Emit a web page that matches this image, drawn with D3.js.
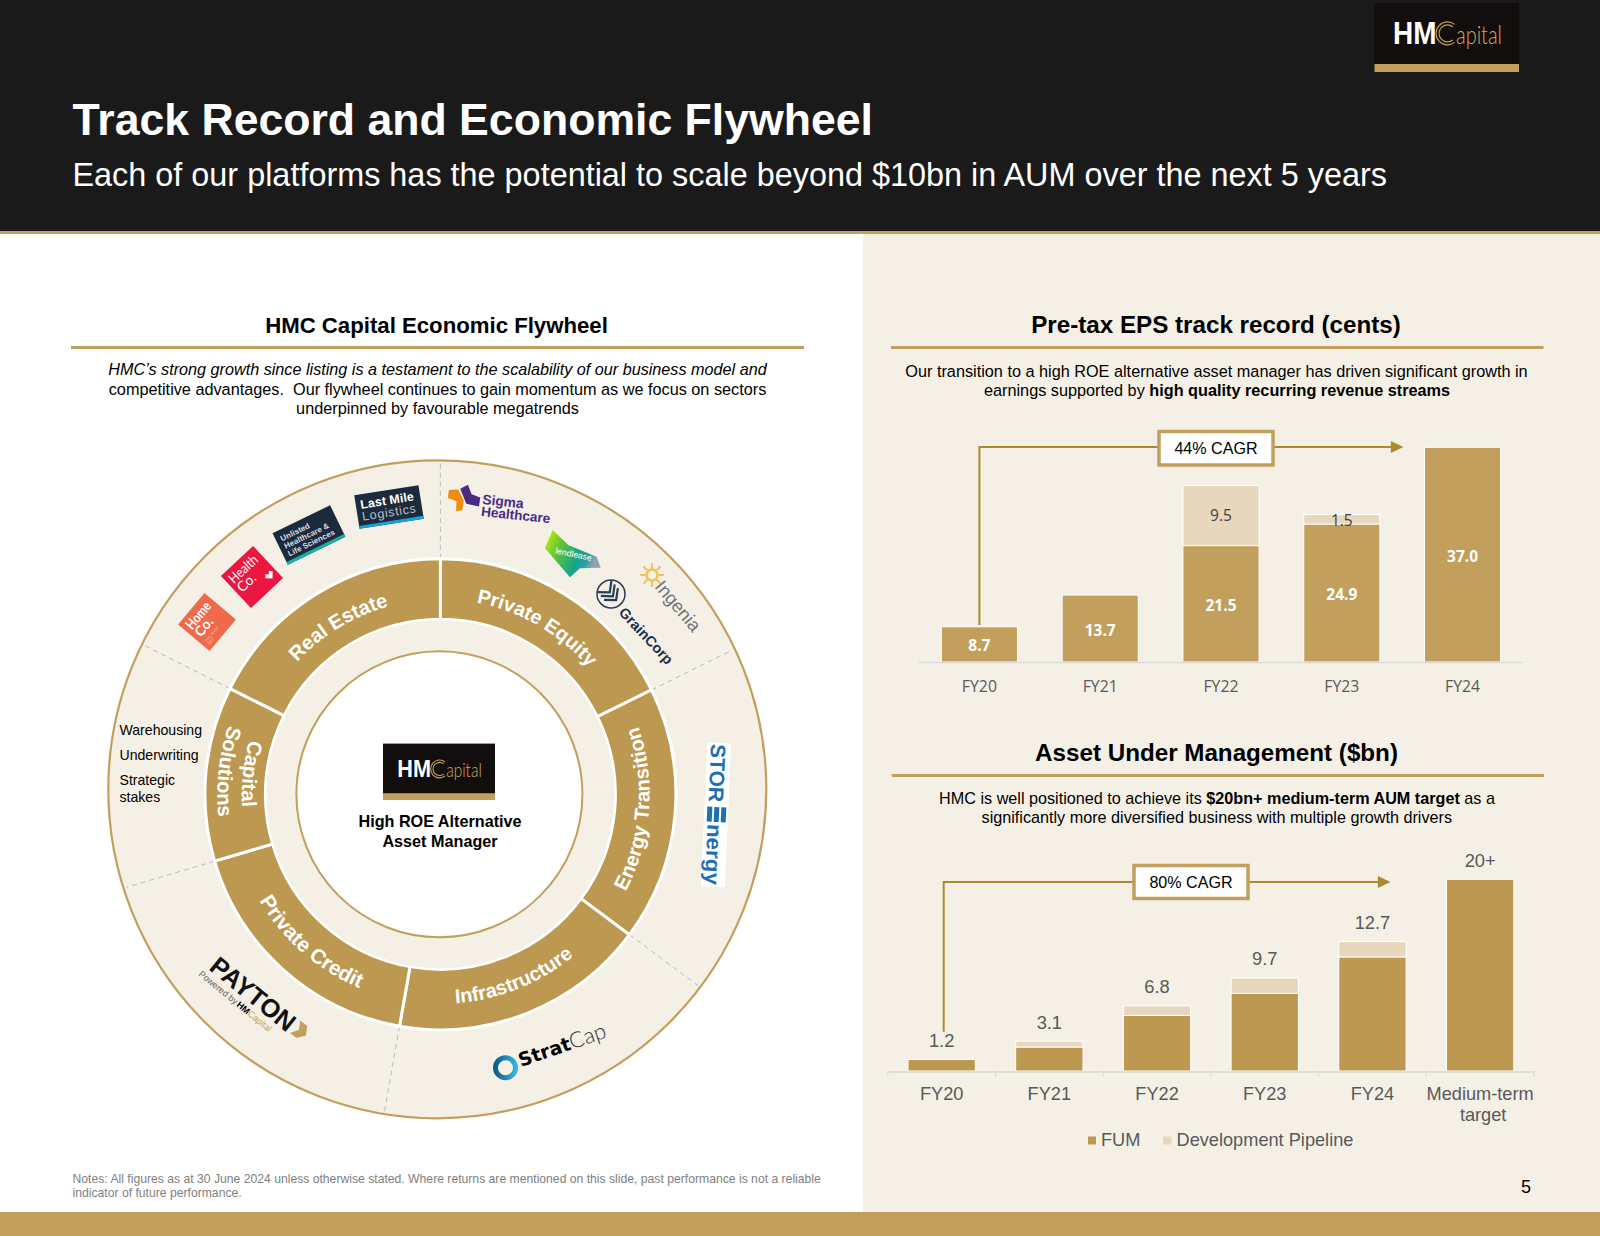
<!DOCTYPE html>
<html><head><meta charset="utf-8">
<script src="https://cdnjs.cloudflare.com/ajax/libs/d3/7.8.5/d3.min.js"></script>
<style>html,body{margin:0;padding:0;background:#fff}svg{display:block}text{font-family:"Liberation Sans",Arial,sans-serif}</style>
</head><body><svg id="s" width="1600" height="1236" viewBox="0 0 1600 1236"></svg>
<script>
// ---------- data ----------
const epsYears = ["FY20","FY21","FY22","FY23","FY24"];
const epsBase = [8.7,13.7,21.5,24.9,37.0];
const epsExtra = [0,0,9.5,1.5,0];
const aumYears = ["FY20","FY21","FY22","FY23","FY24","Medium-term|target"];
const aumFum = [1.2,2.5,5.8,8.1,11.9,20];
const aumPipeline = [0,0.6,1.0,1.6,1.6,0];
const aumTotals = ["1.2","3.1","6.8","9.7","12.7","20+"];
const wheelNames = ["Private Equity","Energy Transition","Infrastructure","Private Credit","Capital Solutions","Real Estate"];
const wheelSpans = [63.7,62.9,63.4,63.5,43.2,63.3];
const capitalItems = ["Warehousing","Underwriting","Strategic","stakes"];

const GOLD="#c29f5c", GOLD2="#bd9850", PALE="#e7d8bd", BEIGE="#f4f0e6", LINE="#ad8a2f", GREY="#595959";
const svg=d3.select("#s");
const T=(g,x,y,t,o={})=>{const e=g.append("text").attr("x",x).attr("y",y).text(t)
  .attr("font-size",o.s||16).attr("fill",o.f||"#000").attr("text-anchor",o.a||"start");
  if(o.w)e.attr("font-weight",o.w); if(o.i)e.attr("font-style","italic"); if(o.ff)e.style("font-family",o.ff);
  if(o.ls)e.attr("letter-spacing",o.ls); if(o.dy)e.attr("dy",o.dy); return e;};
const rich=(g,x,y,parts,s)=>{const e=g.append("text").attr("x",x).attr("y",y).attr("text-anchor","middle").attr("font-size",s);
  parts.forEach(p=>e.append("tspan").text(p[0]).attr("font-weight",p[1]?"bold":"normal"));return e;};

// ---------- page frame ----------
svg.append("rect").attr("width",1600).attr("height",1236).attr("fill","#fff");
svg.append("rect").attr("width",1600).attr("height",231).attr("fill","#1a1a1a");
svg.append("rect").attr("x",863).attr("y",234).attr("width",737).attr("height",980).attr("fill",BEIGE);
svg.append("rect").attr("y",231).attr("width",1600).attr("height",3).attr("fill",GOLD);
svg.append("rect").attr("y",1212).attr("width",1600).attr("height",24).attr("fill",GOLD);
T(svg,72.5,135,"Track Record and Economic Flywheel",{s:44.6,w:"bold",f:"#fff"});
T(svg,72.5,186,"Each of our platforms has the potential to scale beyond $10bn in AUM over the next 5 years",{s:32.4,f:"#fff"});
function logo(x,y,w,h,b){
  const k=w/144.5;
  const g=svg.append("g").attr("transform",`translate(${x},${y})`);
  g.append("rect").attr("width",w).attr("height",h).attr("fill","#120e0d");
  g.append("rect").attr("y",h).attr("width",w).attr("height",b).attr("fill",GOLD);
  const by=h*0.67;
  g.append("text").attr("x",18.5*k).attr("y",by).attr("font-size",31*k).attr("font-weight","bold").attr("fill","#fff")
    .attr("textLength",43.5*k).attr("lengthAdjust","spacingAndGlyphs").text("HM");
  const p=d3.path();[11.5,8.5].forEach(r=>{p.moveTo(73*k+r*k*Math.cos(-0.9),by-10.5*k+r*k*Math.sin(-0.9));p.arc(73*k,by-10.5*k,r*k,-0.9,0.9,true);});
  g.append("path").attr("d",p.toString()).attr("fill","none").attr("stroke",GOLD).attr("stroke-width",1.1);
  g.append("text").attr("x",81.5*k).attr("y",by).attr("font-size",26*k).attr("fill","#d0aa66").attr("font-weight",300).style("font-family","Lato")
    .attr("textLength",46*k).attr("lengthAdjust","spacingAndGlyphs").text("apital");
}
logo(1374.5,3,144.5,61,8);
T(svg,1526,1193,"5",{s:18,a:"middle"});

// ---------- left heading ----------
T(svg,436.5,333,"HMC Capital Economic Flywheel",{s:22.2,w:"bold",a:"middle"});
svg.append("rect").attr("x",71).attr("y",346).attr("width",733).attr("height",3).attr("fill",GOLD);
T(svg,437.5,375,"HMC’s strong growth since listing is a testament to the scalability of our business model and",{s:16.2,i:1,a:"middle"});
T(svg,437.5,394.5,"competitive advantages.  Our flywheel continues to gain momentum as we focus on sectors",{s:16.25,a:"middle"}).style("white-space","pre");
T(svg,437.5,414,"underpinned by favourable megatrends",{s:16.25,a:"middle"});
T(svg,72.5,1183,"Notes: All figures as at 30 June 2024 unless otherwise stated. Where returns are mentioned on this slide, past performance is not a reliable",{s:12.18,f:"#808080"});
T(svg,72.5,1197,"indicator of future performance.",{s:12.18,f:"#808080"});

// ---------- wheel ----------
const C={x:440.4,y:794.3}, D={x:437.3,y:789.3,r:329};
const RO=235.5,RI=175,RC=143;
svg.append("circle").attr("cx",D.x).attr("cy",D.y).attr("r",D.r).attr("fill",BEIGE).attr("stroke",GOLD).attr("stroke-width",2.2);
const slices=d3.pie().sort(null).value(d=>d.span)(wheelNames.map((n,i)=>({name:n,span:wheelSpans[i]})));
const wheel=svg.append("g").attr("transform",`translate(${C.x},${C.y})`);
slices.forEach(s=>{
  const a=s.startAngle, dx=Math.sin(a), dy=-Math.cos(a), ox=C.x-D.x, oy=C.y-D.y;
  const b=ox*dx+oy*dy, R=-b+Math.sqrt(b*b-(ox*ox+oy*oy-D.r*D.r));
  wheel.append("line").attr("x1",dx*RO).attr("y1",dy*RO).attr("x2",dx*(R-3)).attr("y2",dy*(R-3))
    .attr("stroke","#b4b4b4").attr("stroke-width",0.9).attr("stroke-dasharray","5 4");
});
const arc=d3.arc().innerRadius(RI).outerRadius(RO);
wheel.selectAll("path.seg").data(slices).join("path").attr("class","seg").attr("d",arc)
  .attr("fill",GOLD2).attr("stroke","#fff").attr("stroke-width",3);
wheel.append("circle").attr("r",RI-1).attr("fill",BEIGE);
wheel.append("circle").attr("cx",-1).attr("r",RC).attr("fill","#fff").attr("stroke",GOLD).attr("stroke-width",2);
const defs=svg.append("defs");
function arcLabel(text,mid,r,cw,id,size){
  const span=1.4, p=d3.path(), off=-Math.PI/2;
  if(cw) p.arc(0,0,r,mid+off-span,mid+off+span,false);
  else p.arc(0,0,r,mid+off+span,mid+off-span,true);
  defs.append("path").attr("id",id).attr("d",p.toString());
  wheel.append("text").attr("font-size",size).attr("font-weight","bold").attr("fill","#fff").attr("text-anchor","middle")
    .append("textPath").attr("href","#"+id).attr("startOffset","50%").text(text);
}
const nudgeDeg={"Private Equity":-1.8,"Energy Transition":-0.8,"Infrastructure":-0.1,"Private Credit":-0.6,"Capital Solutions":1,"Real Estate":0.3};
const nudgeR={"Private Equity":1,"Real Estate":1,"Infrastructure":-0.5,"Energy Transition":-0.8};
const labelSize={"Private Credit":20.8,"Private Equity":19.8,"Infrastructure":19.9};
slices.forEach((s,i)=>{
  const n=s.data.name, mid=(s.startAngle+s.endAngle)/2+nudgeDeg[n]*Math.PI/180, cw=(n==="Real Estate"||n==="Private Equity");
  if(n==="Capital Solutions"){
    arcLabel("Capital",mid,198.5,false,"w"+i+"a",20.4);
    arcLabel("Solutions",mid,223,false,"w"+i+"b",20.4);
  } else arcLabel(n,mid,(cw?194:210)+(nudgeR[n]||0),cw,"w"+i,labelSize[n]||20.2);
});
capitalItems.forEach((t,i)=>T(svg,119.5,[735,760,785,801.5][i],t,{s:14.1}));
logo(383,743.6,112,50,6.4);
T(svg,440,827,"High ROE Alternative",{s:16.2,w:"bold",a:"middle"});
T(svg,440,847,"Asset Manager",{s:16.2,w:"bold",a:"middle"});

// ---------- brand badges around the wheel ----------
function badge(cx,cy,w,h,rot,fill){const g=svg.append("g").attr("transform",`translate(${cx},${cy}) rotate(${rot})`);
  g.append("rect").attr("x",-w/2).attr("y",-h/2).attr("width",w).attr("height",h).attr("fill",fill);return g;}
let g=badge(207,622,41,41,-50,"#ee6a4b");
const L="Lato";
T(g,-16,-6,"Home",{s:14,f:"#fff",w:"bold",ff:L}).attr("textLength",31).attr("lengthAdjust","spacingAndGlyphs");
T(g,-16,5.5,"Co.",{s:14,f:"#fff",w:"bold",ff:L});T(g,-16,12.5,"Daily Needs",{s:3.5,f:"#f9c4b5"});T(g,-16,16.5,"REIT",{s:3.5,f:"#f9c4b5"});
g=badge(252,577,44,44,-43,"#ec1640");
T(g,-18,-7,"Health",{s:14,f:"#fff",ff:L}).attr("textLength",34).attr("lengthAdjust","spacingAndGlyphs");
T(g,-18,5,"Co.",{s:14,f:"#fff",ff:L});
g.append("path").attr("d","M9 10 L14 15 L19 10 L16.5 7 L14 9.5 L11.5 7 Z").attr("fill","#fff");
g=badge(309,535,64,35,-26,"#1b2a3c");
g.append("rect").attr("x",-32).attr("y",14.5).attr("width",64).attr("height",3).attr("fill","#17b0a8");
["Unlisted","Healthcare &","Life Sciences"].forEach((t,i)=>T(g,-27,-6+i*8.4,t,{s:8,f:"#d8dde2",w:"bold"}));
g=badge(389,507,65,34,-9,"#1b2a3c");
g.append("rect").attr("x",-32.5).attr("y",14).attr("width",65).attr("height",3).attr("fill","#1aa0dc");
T(g,-28,-2.5,"Last Mile",{s:12.5,f:"#fff",w:"bold"}).attr("textLength",54);
T(g,-28,9.5,"Logistics",{s:12.5,f:"#b7bec6"}).attr("textLength",54);
// Sigma
g=svg.append("g").attr("transform","translate(462,498) rotate(8)");
g.append("path").attr("d","M-14 -6 L-5 -8 L2 2 L2 12 L-4 14 L-5 4 L-14 2 Z").attr("fill","#f08a10");
g.append("path").attr("d","M-3 -9 L4 -14 L9 -5 L18 -3 L18 6 L5 5 Z").attr("fill","#4a2a85");
g=svg.append("g").attr("transform","translate(482,504) rotate(6)");
T(g,0,0,"Sigma",{s:13.8,w:"bold",f:"#4a2a85"});T(g,0,12,"Healthcare",{s:13.6,w:"bold",f:"#4a2a85"});
// Lendlease
const lg=defs.append("linearGradient").attr("id","ll").attr("x1","0").attr("y1","0").attr("x2","1").attr("y2","0.4");
[[0,"#d4f200"],[0.35,"#5fc43c"],[0.72,"#14a48a"],[0.86,"#2a9fa6"],[1,"#8fa3ad"]].forEach(d=>lg.append("stop").attr("offset",d[0]).attr("stop-color",d[1]));
g=svg.append("g").attr("transform","translate(430,470) scale(0.3333)");
g.append("path").attr("d","M368 180 L415 225 L500 260 L512 293 L450 295 L420 322 L345 235 Z").attr("fill","url(#ll)");
T(g,375,250,"lendlease",{s:26,f:"#fff"}).attr("transform","rotate(12 375 250)");
// Ingenia
g=svg.append("g").attr("transform","translate(652,575)");
g.append("circle").attr("r",5.5).attr("fill","none").attr("stroke","#f4c160").attr("stroke-width",2.5);
d3.range(8).forEach(i=>{const a=i*Math.PI/4;g.append("line").attr("x1",6*Math.cos(a)).attr("y1",6*Math.sin(a)).attr("x2",12*Math.cos(a)).attr("y2",12*Math.sin(a)).attr("stroke","#f4c160").attr("stroke-width",2);});
T(svg,0,0,"Ingenia",{s:18.3,f:"#6f7478"}).attr("transform","translate(654,587) rotate(50)");
// GrainCorp
g=svg.append("g").attr("transform","translate(611,594)");
g.append("circle").attr("r",14).attr("fill",BEIGE).attr("stroke","#2a3b55").attr("stroke-width",1.5);
[-6,-1,4].forEach(d=>g.append("path").attr("d",`M-9 ${d-4} L0 ${d+4} L9 ${d-4}`).attr("fill","none").attr("stroke","#2a3b55").attr("stroke-width",2.2).attr("transform","rotate(-40)"));
T(svg,0,0,"GrainCorp",{s:14.5,w:"bold",f:"#1c2f4a"}).attr("transform","translate(618,613) rotate(47)");
// STOR Energy
g=svg.append("g").attr("transform","translate(716,815) rotate(92.5)");
g.append("rect").attr("x",-72).attr("y",-12).attr("width",144).attr("height",24).attr("fill","#fff");
T(g,-71,8,"STOR",{s:21,w:"bold",f:"#1f6fb5"}).attr("textLength",58).attr("lengthAdjust","spacingAndGlyphs");
[-10,-3,4].forEach(d=>g.append("rect").attr("x",-8).attr("y",d).attr("width",15).attr("height",5).attr("fill","#1f6fb5"));
T(g,9,8,"nergy",{s:21,w:"bold",f:"#1f6fb5"}).attr("textLength",61).attr("lengthAdjust","spacingAndGlyphs");
// StratCap
const sg=defs.append("linearGradient").attr("id","sc");
sg.append("stop").attr("offset",0).attr("stop-color","#0f5d8c");sg.append("stop").attr("offset",1).attr("stop-color","#35b3dc");
svg.append("circle").attr("cx",505.5).attr("cy",1067.7).attr("r",10).attr("fill","none").attr("stroke","url(#sc)").attr("stroke-width",5);
g=svg.append("g").attr("transform","translate(521,1067) rotate(-19)");
const st=T(g,0,0,"",{s:19});st.append("tspan").text("Strat").attr("font-weight","bold").style("font-family","DejaVu Sans");st.append("tspan").text("Cap").attr("fill","#333").attr("font-weight",300).style("font-family","Lato").attr("font-size",22);
// Payton
g=svg.append("g").attr("transform","translate(208,969) rotate(39)");
T(g,0,0,"PAYTON",{s:25.5,w:"bold",f:"#111"});
T(g,-4,11,"Powered by",{s:9,f:"#666"});
const pw=T(g,45,11,"",{s:9});pw.append("tspan").text("HM").attr("font-weight","bold");pw.append("tspan").text("Capital").attr("fill",GOLD);
g.append("path").attr("d","M104 -18 L113 -18 L118 -10 L112 -2 L104 -2 L109 -10 Z").attr("fill",GOLD);

// ---------- EPS chart ----------
const epsG=svg.append("g");
T(epsG,1216,333,"Pre-tax EPS track record (cents)",{s:24.2,w:"bold",a:"middle"});
epsG.append("rect").attr("x",891).attr("y",346).attr("width",652.5).attr("height",3).attr("fill",GOLD);
T(epsG,1216.5,377,"Our transition to a high ROE alternative asset manager has driven significant growth in",{s:16.25,a:"middle"});
rich(epsG,1217,395.5,[["earnings supported by ",0],["high quality recurring revenue streams",1]],16.25);
const x1=d3.scaleBand().domain(epsYears).range([919,1523]).paddingInner(0.37).paddingOuter(0.185);
const y1=d3.scaleLinear().domain([3.15,37]).range([662,447.3]);
epsG.selectAll("rect.b").data(epsYears).join("rect").attr("class","b").attr("x",d=>x1(d)).attr("width",x1.bandwidth())
  .attr("y",(d,i)=>y1(epsBase[i])).attr("height",(d,i)=>y1.range()[0]-y1(epsBase[i])).attr("fill",GOLD).attr("stroke","#fff").attr("stroke-width",1);
epsG.selectAll("rect.e").data(epsYears.filter((d,i)=>epsExtra[i]>0)).join("rect").attr("class","e").attr("x",d=>x1(d)).attr("width",x1.bandwidth())
  .attr("y",d=>{const i=epsYears.indexOf(d);return y1(epsBase[i]+epsExtra[i]);})
  .attr("height",d=>{const i=epsYears.indexOf(d);return y1(epsBase[i])-y1(epsBase[i]+epsExtra[i]);}).attr("fill",PALE).attr("stroke","#fff").attr("stroke-width",1);
const OS="Open Sans";
epsYears.forEach((d,i)=>{
  const cx=x1(d)+x1.bandwidth()/2;
  T(epsG,cx,(y1(epsBase[i])+662)/2+1.5,epsBase[i].toFixed(1),{s:15.5,w:"bold",f:"#fff",a:"middle",ff:OS,dy:"0.36em"});
  if(epsExtra[i]>0)T(epsG,cx,(y1(epsBase[i])+y1(epsBase[i]+epsExtra[i]))/2+(i===3?1:0),epsExtra[i].toFixed(1),{s:15.5,f:"#404040",a:"middle",ff:OS,dy:"0.36em"});
  T(epsG,cx,686.7,d,{s:15.8,f:GREY,a:"middle",ff:OS,dy:"0.36em"});
});
epsG.append("line").attr("x1",919).attr("x2",1523).attr("y1",662.5).attr("y2",662.5).attr("stroke","#d9d9d9").attr("stroke-width",1.5);
function cagr(g,x0,y0,yl,tip,bx0,bx1,by0,by1,label){
  g.append("path").attr("d",`M${x0} ${y0} L${x0} ${yl} L${tip-10} ${yl}`).attr("fill","none").attr("stroke",LINE).attr("stroke-width",2);
  g.append("path").attr("d",`M${tip-12.5} ${yl-6} L${tip} ${yl} L${tip-12.5} ${yl+6} Z`).attr("fill",LINE);
  g.append("rect").attr("x",bx0).attr("y",by0).attr("width",bx1-bx0).attr("height",by1-by0).attr("fill","#fff").attr("stroke",GOLD).attr("stroke-width",3.5);
  T(g,(bx0+bx1)/2,(by0+by1)/2,label,{s:16.1,a:"middle",dy:"0.36em"});
}
cagr(epsG,x1("FY20")+x1.bandwidth()/2,625,447,1403.4,1159,1273,431.5,465,"44% CAGR");

// ---------- AUM chart ----------
const aumG=svg.append("g");
T(aumG,1216.5,761,"Asset Under Management ($bn)",{s:24.2,w:"bold",a:"middle"});
aumG.append("rect").attr("x",891.7).attr("y",774).attr("width",652.3).attr("height",3).attr("fill",GOLD);
rich(aumG,1217,804,[["HMC is well positioned to achieve its ",0],["$20bn+ medium-term AUM target",1],[" as a",0]],16.2);
T(aumG,1216.8,823,"significantly more diversified business with multiple growth drivers",{s:16.2,a:"middle"});
const x2=d3.scaleBand().domain(aumYears).range([887.8,1534]).paddingInner(0.375).paddingOuter(0.1875);
const y2=d3.scaleLinear().domain([0,20]).range([1071,879.3]);
aumG.selectAll("rect.f").data(aumYears).join("rect").attr("class","f").attr("x",d=>x2(d)).attr("width",x2.bandwidth())
  .attr("y",(d,i)=>y2(aumFum[i])).attr("height",(d,i)=>1071-y2(aumFum[i])).attr("fill",GOLD2).attr("stroke","#fff").attr("stroke-width",1);
aumG.selectAll("rect.p").data(aumYears.filter((d,i)=>aumPipeline[i]>0)).join("rect").attr("class","p").attr("x",d=>x2(d)).attr("width",x2.bandwidth())
  .attr("y",d=>{const i=aumYears.indexOf(d);return y2(aumFum[i]+aumPipeline[i]);})
  .attr("height",d=>{const i=aumYears.indexOf(d);return y2(aumFum[i])-y2(aumFum[i]+aumPipeline[i]);}).attr("fill",PALE).attr("stroke","#fff").attr("stroke-width",1);
const ax=d3.axisBottom(x2).tickSize(0).tickFormat("");
const axG=aumG.append("g").attr("transform","translate(0,1071.5)").call(ax);
axG.select(".domain").attr("stroke","#d9d9d9").attr("stroke-width",1.5);
x2.domain().concat(["end"]).forEach((d,i)=>{const tx=887.8+i*x2.step();
  aumG.append("line").attr("x1",tx).attr("x2",tx).attr("y1",1071).attr("y2",1077).attr("stroke","#d9d9d9").attr("stroke-width",1);});
aumYears.forEach((d,i)=>{
  const cx=x2(d)+x2.bandwidth()/2, top=y2(aumFum[i]+aumPipeline[i]);
  T(aumG,cx,top-19.3,aumTotals[i],{s:18.3,f:GREY,a:"middle",dy:"0.36em"});
  d.split("|").forEach((l,j)=>T(aumG,cx+(j===1?3:0),1093+j*21.5,l,{s:18.2,f:GREY,a:"middle",dy:"0.36em"}));
});
cagr(aumG,943.7,1031.7,882,1390.4,1134,1248,865.5,898.5,"80% CAGR");
aumG.append("rect").attr("x",1088).attr("y",1136.5).attr("width",8).attr("height",8).attr("fill",GOLD2);
T(aumG,1101,1146,"FUM",{s:18.2,f:GREY});
aumG.append("rect").attr("x",1163).attr("y",1136.5).attr("width",8.5).attr("height",8).attr("fill",PALE);
T(aumG,1176.5,1146,"Development Pipeline",{s:18.2,f:GREY});
</script></body></html>
